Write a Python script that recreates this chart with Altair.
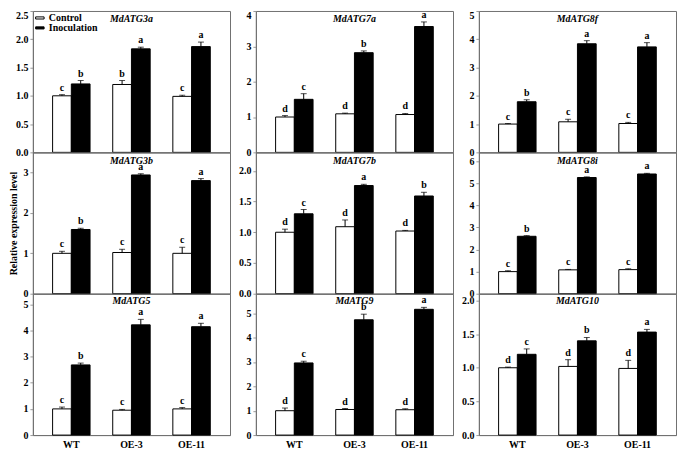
import altair as alt
import pandas as pd

genotypes = ["WT", "OE-3", "OE-11"]
treatments = ["Control", "Inoculation"]
genes = ["MdATG3a", "MdATG7a", "MdATG8f",
         "MdATG3b", "MdATG7b", "MdATG8i",
         "MdATG5", "MdATG9", "MdATG10"]

ctrl_mean = {
    "MdATG3a": [1.00, 1.20, 0.99], "MdATG7a": [1.00, 1.09, 1.07], "MdATG8f": [1.00, 1.08, 1.02],
    "MdATG3b": [1.00, 1.02, 1.00], "MdATG7b": [1.00, 1.09, 1.02], "MdATG8i": [1.00, 1.08, 1.09],
    "MdATG5": [1.00, 0.95, 1.00], "MdATG9": [1.00, 1.05, 1.04], "MdATG10": [1.00, 1.02, 0.99],
}
ctrl_err = {
    "MdATG3a": [0.02, 0.07, 0.02], "MdATG7a": [0.04, 0.02, 0.03], "MdATG8f": [0.02, 0.09, 0.04],
    "MdATG3b": [0.05, 0.08, 0.15], "MdATG7b": [0.05, 0.11, 0.01], "MdATG8i": [0.04, 0.02, 0.04],
    "MdATG5": [0.07, 0.03, 0.05], "MdATG9": [0.11, 0.04, 0.04], "MdATG10": [0.01, 0.10, 0.12],
}
inoc_mean = {
    "MdATG3a": [1.21, 1.83, 1.87], "MdATG7a": [1.50, 2.82, 3.56], "MdATG8f": [1.79, 3.84, 3.73],
    "MdATG3b": [1.59, 2.94, 2.80], "MdATG7b": [1.30, 1.76, 1.59], "MdATG8i": [2.60, 5.26, 5.42],
    "MdATG5": [2.68, 4.21, 4.14], "MdATG9": [2.96, 4.73, 5.16], "MdATG10": [1.20, 1.40, 1.53],
}
inoc_err = {
    "MdATG3a": [0.06, 0.03, 0.08], "MdATG7a": [0.16, 0.05, 0.13], "MdATG8f": [0.07, 0.11, 0.15],
    "MdATG3b": [0.03, 0.03, 0.05], "MdATG7b": [0.07, 0.02, 0.06], "MdATG8i": [0.03, 0.03, 0.03],
    "MdATG5": [0.07, 0.21, 0.13], "MdATG9": [0.07, 0.23, 0.08], "MdATG10": [0.08, 0.05, 0.04],
}
ctrl_letters = {
    "MdATG3a": ["c", "b", "c"], "MdATG7a": ["d", "d", "d"], "MdATG8f": ["c", "c", "c"],
    "MdATG3b": ["c", "c", "c"], "MdATG7b": ["d", "d", "d"], "MdATG8i": ["c", "c", "c"],
    "MdATG5": ["c", "c", "c"], "MdATG9": ["d", "d", "d"], "MdATG10": ["d", "d", "d"],
}
inoc_letters = {
    "MdATG3a": ["b", "a", "a"], "MdATG7a": ["c", "b", "a"], "MdATG8f": ["b", "a", "a"],
    "MdATG3b": ["b", "a", "a"], "MdATG7b": ["c", "a", "b"], "MdATG8i": ["b", "a", "a"],
    "MdATG5": ["b", "a", "a"], "MdATG9": ["c", "b", "a"], "MdATG10": ["c", "b", "a"],
}
y_max = {"MdATG3a": 2.5, "MdATG7a": 4, "MdATG8f": 5,
         "MdATG3b": 3.5, "MdATG7b": 2.3, "MdATG8i": 6.4,
         "MdATG5": 5.4, "MdATG9": 5.8, "MdATG10": 2.1}
y_ticks = {"MdATG3a": [0, 0.5, 1, 1.5, 2, 2.5], "MdATG7a": [0, 1, 2, 3, 4], "MdATG8f": [0, 1, 2, 3, 4, 5],
           "MdATG3b": [0, 1, 2, 3], "MdATG7b": [0, 0.5, 1, 1.5, 2], "MdATG8i": [0, 1, 2, 3, 4, 5, 6],
           "MdATG5": [0, 1, 2, 3, 4, 5], "MdATG9": [0, 1, 2, 3, 4, 5], "MdATG10": [0, 0.5, 1, 1.5, 2]}
y_fmt = {"MdATG3a": ".1f", "MdATG7a": "d", "MdATG8f": "d",
         "MdATG3b": "d", "MdATG7b": ".1f", "MdATG8i": "d",
         "MdATG5": "d", "MdATG9": "d", "MdATG10": ".1f"}

FONT = "Liberation Serif"
W, H = 198, 142
TITLE_Y = [8, 9, 7]
FRAME = "#707070"


def panel(idx, gene):
    rows = []
    for i, g in enumerate(genotypes):
        rows.append(dict(genotype=g, treatment="Control", mean=ctrl_mean[gene][i],
                         top=ctrl_mean[gene][i] + ctrl_err[gene][i], letter=ctrl_letters[gene][i]))
        rows.append(dict(genotype=g, treatment="Inoculation", mean=inoc_mean[gene][i],
                         top=inoc_mean[gene][i] + inoc_err[gene][i], letter=inoc_letters[gene][i]))
    df = pd.DataFrame(rows)
    row, col = divmod(idx, 3)
    bottom = row == 2
    x = alt.X("genotype:N", sort=genotypes,
              scale=alt.Scale(paddingInner=0.377, paddingOuter=0.328),
              axis=alt.Axis(title=None, labels=bottom, ticks=False, labelAngle=0,
                            labelPadding=4, domainColor=FRAME))
    xo = alt.XOffset("treatment:N", sort=treatments, scale=alt.Scale(paddingInner=0, paddingOuter=0))
    yaxis_kwargs = dict(values=y_ticks[gene], format=y_fmt[gene], grid=False, tickSize=3,
                        labelPadding=2, domainColor=FRAME, tickColor="#999999", labelOverlap=False,
                        title="Relative expression level" if idx == 3 else None,
                        titlePadding=4)
    if row == 0:
        yaxis_kwargs["labelBaseline"] = {"condition": {"test": f"datum.value == {y_max[gene]}", "value": "top"},
                                         "value": "middle"}
    yscale = alt.Scale(domain=[0, y_max[gene]], nice=False, zero=True)
    yaxis = alt.Axis(**yaxis_kwargs)
    y = alt.Y("mean:Q", scale=yscale, axis=yaxis)
    ytop = alt.Y("top:Q", scale=yscale, axis=yaxis)
    if idx == 0:
        legend = alt.Legend(title=None, orient="top-left", offset=2, padding=0, rowPadding=0,
                            symbolType="M-1,-0.25H1V0.25H-1Z", symbolSize=72,
                            symbolStrokeColor="black", symbolStrokeWidth=1,
                            labelFont=FONT, labelFontWeight="bold", labelFontSize=10, labelOffset=4)
    else:
        legend = None
    fill = alt.Fill("treatment:N", sort=treatments,
                    scale=alt.Scale(domain=treatments, range=["white", "black"]), legend=legend)
    base = alt.Chart(df)
    bars = base.mark_bar(stroke="black", strokeWidth=1).encode(x=x, xOffset=xo, y=y, fill=fill)
    rule = base.mark_rule(color="black", strokeWidth=1).encode(x=x, xOffset=xo, y=y, y2="top:Q")
    cap = base.mark_tick(color="black", size=6, thickness=1).encode(x=x, xOffset=xo, y=ytop)
    txt = base.mark_text(font=FONT, fontWeight="bold", fontSize=10, baseline="bottom", dy=-2).encode(
        x=x, xOffset=xo, y=ytop, text="letter:N")
    title = alt.Chart(pd.DataFrame({"gene": [gene]})).mark_text(
        font=FONT, fontWeight="bold", fontStyle="italic", fontSize=10, baseline="middle").encode(
        x=alt.value(W / 2), y=alt.value(TITLE_Y[row]), text="gene:N")
    return alt.layer(bars, rule, cap, txt, title).properties(width=W, height=H)


panels = [panel(i, g) for i, g in enumerate(genes)]

chart = alt.concat(*panels, columns=3, spacing={"row": 0, "column": 26}, bounds="flush").resolve_scale(
    y="independent", fill="independent", x="independent").resolve_axis(
    x="independent", y="independent").resolve_legend(fill="independent").configure(
    font=FONT, padding=0, background="white").configure_view(stroke=FRAME, strokeWidth=1).configure_axis(
    labelFont=FONT, labelFontWeight="bold", labelFontSize=10, labelColor="black", labelOverlap=False,
    titleFont=FONT, titleFontWeight="bold", titleFontSize=10, titleColor="black")

chart.save("out.html", embed_options={"renderer": "svg", "actions": False})
